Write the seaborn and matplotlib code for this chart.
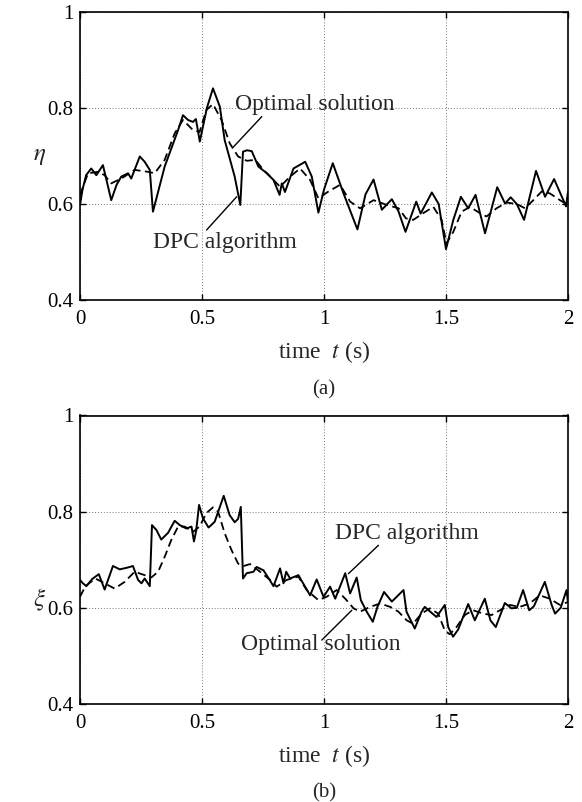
import numpy as np
import pandas as pd
import matplotlib
matplotlib.use("Agg")
import matplotlib.pyplot as plt
import seaborn as sns

# ---------------- data ----------------
top_dpc_t = [0.0, 0.01, 0.025, 0.046, 0.067, 0.094, 0.128, 0.15, 0.169, 0.197, 0.21, 0.245, 0.265,
             0.286, 0.299, 0.347, 0.402, 0.422, 0.443, 0.463, 0.475, 0.491, 0.52, 0.545, 0.573,
             0.593, 0.634, 0.657, 0.668, 0.685, 0.704, 0.731, 0.766, 0.793, 0.818, 0.827, 0.84,
             0.875, 0.923, 0.95, 0.977, 1.0, 1.036, 1.08, 1.137, 1.17, 1.203, 1.237, 1.278, 1.305,
             1.334, 1.378, 1.396, 1.442, 1.47, 1.5, 1.53, 1.561, 1.591, 1.621, 1.66, 1.71, 1.742,
             1.765, 1.79, 1.82, 1.869, 1.906, 1.943, 1.981, 1.992, 2.0]
top_dpc_v = [0.598, 0.629, 0.66, 0.674, 0.66, 0.681, 0.608, 0.64, 0.657, 0.664, 0.653, 0.699, 0.688,
             0.671, 0.584, 0.678, 0.754, 0.785, 0.775, 0.771, 0.777, 0.73, 0.80, 0.841, 0.803,
             0.733, 0.657, 0.598, 0.709, 0.712, 0.71, 0.678, 0.664, 0.65, 0.619, 0.643, 0.625,
             0.674, 0.688, 0.657, 0.582, 0.63, 0.685, 0.622, 0.547, 0.62, 0.651, 0.588, 0.61, 0.585,
             0.542, 0.605, 0.58, 0.624, 0.60, 0.506, 0.567, 0.615, 0.591, 0.619, 0.539, 0.635, 0.601,
             0.614, 0.60, 0.567, 0.669, 0.615, 0.652, 0.608, 0.595, 0.625]

top_opt_t = [0.0, 0.033, 0.074, 0.101, 0.128, 0.169, 0.224, 0.279, 0.306, 0.347, 0.388, 0.422, 0.463,
             0.49, 0.518, 0.545, 0.58, 0.614, 0.648, 0.684, 0.718, 0.752, 0.793, 0.82, 0.861, 0.902,
             0.943, 0.977, 1.018, 1.066, 1.107, 1.148, 1.203, 1.258, 1.306, 1.336, 1.366, 1.407,
             1.448, 1.482, 1.502, 1.53, 1.564, 1.598, 1.639, 1.666, 1.707, 1.748, 1.79, 1.824,
             1.858, 1.892, 1.926, 1.967, 2.0]
top_opt_v = [0.619, 0.664, 0.667, 0.66, 0.643, 0.653, 0.671, 0.667, 0.664, 0.692, 0.747, 0.775, 0.754,
             0.75, 0.796, 0.808, 0.775, 0.726, 0.699, 0.69, 0.692, 0.671, 0.65, 0.636, 0.657, 0.674,
             0.65, 0.612, 0.626, 0.64, 0.605, 0.591, 0.608, 0.598, 0.591, 0.57, 0.567, 0.581,
             0.594, 0.567, 0.518, 0.542, 0.584, 0.594, 0.581, 0.574, 0.591, 0.603, 0.6, 0.591,
             0.608, 0.626, 0.622, 0.608, 0.598]

bot_dpc_t = [0.0, 0.012, 0.026, 0.05, 0.077, 0.101, 0.135, 0.163, 0.197, 0.217, 0.238, 0.252, 0.265,
             0.286, 0.295, 0.313, 0.333, 0.361, 0.388, 0.409, 0.436, 0.457, 0.467, 0.476, 0.488,
             0.504, 0.527, 0.552, 0.589, 0.613, 0.634, 0.648, 0.659, 0.668, 0.683, 0.711, 0.724,
             0.752, 0.775, 0.793, 0.82, 0.834, 0.845, 0.861, 0.895, 0.943, 0.97, 0.998, 1.025,
             1.046, 1.087, 1.107, 1.134, 1.151, 1.175, 1.2, 1.219, 1.246, 1.278, 1.326, 1.338,
             1.372, 1.4, 1.413, 1.44, 1.461, 1.495, 1.509, 1.529, 1.55, 1.591, 1.618, 1.659, 1.682,
             1.704, 1.741, 1.768, 1.79, 1.816, 1.841, 1.86, 1.905, 1.933, 1.947, 1.97, 1.994, 2.0]
bot_dpc_v = [0.658, 0.651, 0.645, 0.66, 0.67, 0.638, 0.687, 0.68, 0.684, 0.687, 0.658, 0.651, 0.661,
             0.645, 0.772, 0.762, 0.742, 0.756, 0.781, 0.772, 0.765, 0.769, 0.738, 0.76, 0.814,
             0.786, 0.767, 0.779, 0.833, 0.793, 0.778, 0.785, 0.81, 0.661, 0.672, 0.675, 0.685,
             0.678, 0.66, 0.645, 0.682, 0.651, 0.675, 0.661, 0.668, 0.626, 0.659, 0.623, 0.644,
             0.619, 0.672, 0.63, 0.663, 0.616, 0.592, 0.571, 0.602, 0.633, 0.613, 0.637, 0.592,
             0.557, 0.592, 0.602, 0.59, 0.581, 0.606, 0.56, 0.54, 0.555, 0.608, 0.574, 0.619, 0.574,
             0.56, 0.61, 0.599, 0.60, 0.637, 0.595, 0.603, 0.654, 0.606, 0.588, 0.60, 0.637, 0.612]

bot_opt_t = [0.0, 0.022, 0.063, 0.101, 0.142, 0.183, 0.224, 0.265, 0.292, 0.32, 0.347, 0.374, 0.402,
             0.429, 0.463, 0.49, 0.518, 0.545, 0.566, 0.593, 0.621, 0.648, 0.671, 0.697, 0.738,
             0.779, 0.806, 0.847, 0.895, 0.929, 0.977, 1.011, 1.052, 1.087, 1.121, 1.148, 1.189,
             1.23, 1.271, 1.305, 1.339, 1.365, 1.4, 1.434, 1.468, 1.495, 1.515, 1.543, 1.577, 1.611,
             1.652, 1.687, 1.721, 1.761, 1.802, 1.843, 1.884, 1.925, 1.967, 2.0]
bot_opt_v = [0.623, 0.645, 0.661, 0.651, 0.64, 0.654, 0.675, 0.668, 0.663, 0.675, 0.706, 0.741, 0.769,
             0.769, 0.758, 0.769, 0.797, 0.809, 0.8, 0.755, 0.72, 0.692, 0.687, 0.691, 0.675,
             0.658, 0.644, 0.658, 0.665, 0.637, 0.616, 0.623, 0.637, 0.619, 0.599, 0.592, 0.602,
             0.609, 0.602, 0.592, 0.574, 0.567, 0.588, 0.599, 0.588, 0.553, 0.545, 0.56, 0.585, 0.595,
             0.588, 0.585, 0.595, 0.606, 0.602, 0.609, 0.626, 0.619, 0.606, 0.612]

x_ticks = [0, 0.5, 1, 1.5, 2]
x_tick_labels = ["0", "0.5", "1", "1.5", "2"]
y_ticks = [0.4, 0.6, 0.8, 1.0]
y_tick_labels = ["0.4", "0.6", "0.8", "1"]

# ---------------- style ----------------
sns.set_style("ticks")
plt.rcParams["font.family"] = ["Liberation Serif", "DejaVu Serif"]
plt.rcParams["mathtext.fontset"] = "stix"

W, H = 582, 802
fig = plt.figure(figsize=(W / 100, H / 100), dpi=100)


def px_axes(left, top, right, bottom):
    return fig.add_axes([left / W, 1 - bottom / H, (right - left) / W, (bottom - top) / H])


ax1 = px_axes(80, 12, 568, 300)
ax2 = px_axes(80, 415.5, 568, 704)


def draw(ax, dpc_t, dpc_v, opt_t, opt_v):
    df_d = pd.DataFrame({"t": dpc_t, "v": dpc_v})
    df_o = pd.DataFrame({"t": opt_t, "v": opt_v})
    sns.lineplot(data=df_o, x="t", y="v", ax=ax, color="black", lw=1.3,
                 estimator=None, sort=False, linestyle=(0, (4.5, 2.5)))
    sns.lineplot(data=df_d, x="t", y="v", ax=ax, color="black", lw=1.4,
                 estimator=None, sort=False)
    ax.set_xlim(0, 2)
    ax.set_ylim(0.4, 1.0)
    ax.set_xticks(x_ticks)
    ax.set_xticklabels(x_tick_labels)
    ax.set_yticks(y_ticks)
    ax.set_yticklabels(y_tick_labels)
    ax.grid(True, linestyle=(0, (1, 2)), color="#777777", lw=0.7)
    ax.tick_params(direction="in", top=True, right=True, length=4, width=1.0,
                   labelsize=15, colors="black")
    ax.tick_params(axis="x", pad=7)
    ax.tick_params(axis="y", pad=5)
    for s in ax.spines.values():
        s.set_visible(True)
        s.set_linewidth(1.2)
        s.set_color("black")
    ax.set_xlabel("time  $t$ (s)", fontsize=17)
    ax.xaxis.set_label_coords(0.5, -52 / 288)
    ax.xaxis.label.set_va("center")
    ax.set_ylabel("")


draw(ax1, top_dpc_t, top_dpc_v, top_opt_t, top_opt_v)
draw(ax2, bot_dpc_t, bot_dpc_v, bot_opt_t, bot_opt_v)

fig.text(40 / W, 1 - 156 / H, r"$\eta$", fontsize=18, ha="center", va="center")
fig.text(40 / W, 1 - 600 / H, r"$\xi$", fontsize=18, ha="center", va="center")
fig.text(324 / W, 1 - 390 / H, "(a)", fontsize=15, ha="center", va="center")
fig.text(324 / W, 1 - 793 / H, "(b)", fontsize=15, ha="center", va="center")

# annotations (top)
ax1.text(0.636, 0.796, "Optimal solution", fontsize=17, ha="left", va="baseline")
ax1.plot([0.629, 0.745], [0.719, 0.782], color="black", lw=1.0)
ax1.text(0.301, 0.508, "DPC algorithm", fontsize=17, ha="left", va="baseline")
ax1.plot([0.519, 0.642], [0.546, 0.615], color="black", lw=1.0)
# annotations (bottom)
ax2.text(1.046, 0.744, "DPC algorithm", fontsize=17, ha="left", va="baseline")
ax2.plot([1.223, 1.100], [0.730, 0.671], color="black", lw=1.0)
ax2.text(0.659, 0.5125, "Optimal solution", fontsize=17, ha="left", va="baseline")
ax2.plot([0.991, 1.114], [0.533, 0.595], color="black", lw=1.0)

fig.savefig("out.png", dpi=100, facecolor="white")
